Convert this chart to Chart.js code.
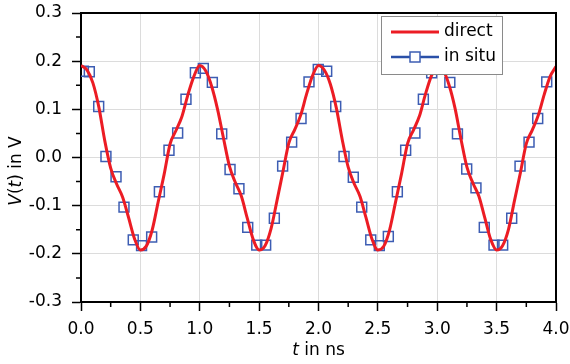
<!DOCTYPE html>
<html>
<head>
<meta charset="utf-8">
<title>V(t) direct vs in situ</title>
<script src="https://cdn.jsdelivr.net/npm/chart.js@4.4.1/dist/chart.umd.min.js"></script>
<style>
    body { margin: 0; background: #fff; }
    canvas { display: block; }
</style>
</head>
<body>
<canvas id="chart" width="570" height="364"></canvas>
<script>
// red curve, sampled every 0.05 ns
const directTimes = [
    0.00, 0.05, 0.10, 0.15, 0.20, 0.25, 0.30, 0.35, 0.40, 0.45, 0.50, 0.55, 0.60, 0.65, 0.70, 0.75, 0.80, 0.85, 0.90, 0.95,
    1.00, 1.05, 1.10, 1.15, 1.20, 1.25, 1.30, 1.35, 1.40, 1.45, 1.50, 1.55, 1.60, 1.65, 1.70, 1.75, 1.80, 1.85, 1.90, 1.95,
    2.00, 2.05, 2.10, 2.15, 2.20, 2.25, 2.30, 2.35, 2.40, 2.45, 2.50, 2.55, 2.60, 2.65, 2.70, 2.75, 2.80, 2.85, 2.90, 2.95,
    3.00, 3.05, 3.10, 3.15, 3.20, 3.25, 3.30, 3.35, 3.40, 3.45, 3.50, 3.55, 3.60, 3.65, 3.70, 3.75, 3.80, 3.85, 3.90, 3.95,
    4.00
]
const directValues = [
    0.191, 0.182, 0.155, 0.105, 0.035, -0.022, -0.055, -0.082, -0.124, -0.168, -0.192, -0.184, -0.150, -0.092, -0.035, 0.028, 0.056, 0.085, 0.130, 0.168,
    0.191, 0.180, 0.148, 0.100, 0.040, -0.018, -0.052, -0.080, -0.126, -0.170, -0.192, -0.183, -0.148, -0.090, -0.030, 0.030, 0.058, 0.088, 0.132, 0.170,
    0.191, 0.181, 0.152, 0.103, 0.037, -0.020, -0.054, -0.081, -0.125, -0.169, -0.192, -0.184, -0.149, -0.091, -0.033, 0.029, 0.057, 0.086, 0.131, 0.169,
    0.190, 0.181, 0.150, 0.102, 0.038, -0.020, -0.053, -0.080, -0.125, -0.170, -0.192, -0.183, -0.149, -0.090, -0.032, 0.029, 0.057, 0.087, 0.130, 0.168,
    0.189
]

// blue squares
const inSituTimes = [
    0.020, 0.070, 0.149, 0.210, 0.295, 0.362, 0.440, 0.510, 0.595, 0.660, 0.741, 0.814, 0.884, 0.963,
    1.030, 1.106, 1.185, 1.255, 1.330, 1.404, 1.480, 1.555, 1.628, 1.698, 1.774, 1.853, 1.920, 1.998,
    2.069, 2.145, 2.215, 2.293, 2.364, 2.440, 2.512, 2.588, 2.664, 2.734, 2.812, 2.883, 2.953,
    3.030, 3.106, 3.170, 3.248, 3.326, 3.396, 3.478, 3.551, 3.627, 3.697, 3.773, 3.846, 3.922
]
const inSituValues = [
    0.179, 0.178, 0.106, 0.002, -0.040, -0.103, -0.171, -0.183, -0.165, -0.071, 0.015, 0.051, 0.121, 0.176,
    0.185, 0.156, 0.049, -0.025, -0.065, -0.145, -0.182, -0.182, -0.126, -0.018, 0.032, 0.081, 0.157, 0.183,
    0.179, 0.106, 0.002, -0.041, -0.103, -0.171, -0.183, -0.164, -0.071, 0.015, 0.051, 0.121, 0.176,
    0.185, 0.156, 0.049, -0.024, -0.063, -0.145, -0.182, -0.182, -0.126, -0.018, 0.032, 0.081, 0.157
]

const seriesNames = ["direct", "in situ"]
const xRange = [0, 4]
const yRange = [-0.3, 0.3]

const redColor = "#ec1c24"
const blueColor = "#3d5db3"
const fontFamily = "'DejaVu Sans', 'Liberation Sans', Arial, sans-serif"
const fontSize = 17

function toPoints(xs, ys) {
    return xs.map((x, i) => ({ x: x, y: ys[i] }))
}

function oneDecimal(value) {
    if (Math.abs(value) < 1e-9) return "0.0"
    return value.toFixed(1)
}

// draws a row of text pieces, some italic, centred on (cx, cy)
function drawMixedText(ctx, parts, cx, cy) {
    let widths = parts.map(p => {
        ctx.font = (p.italic ? "italic " : "") + fontSize + "px " + fontFamily
        return ctx.measureText(p.text).width
    })
    let total = widths.reduce((a, b) => a + b, 0)
    let x = cx - total / 2
    ctx.textBaseline = "middle"
    ctx.textAlign = "left"
    parts.forEach((p, i) => {
        ctx.font = (p.italic ? "italic " : "") + fontSize + "px " + fontFamily
        ctx.fillText(p.text, x, cy)
        x += widths[i]
    })
}

const framePlugin = {
    id: "frame",
    afterDatasetsDraw(chart) {
        const ctx = chart.ctx
        const area = chart.chartArea
        const xScale = chart.scales.x
        const yScale = chart.scales.y
        ctx.save()
        ctx.strokeStyle = "#000"
        ctx.lineWidth = 2
        ctx.beginPath()
        ctx.moveTo(area.left, area.top)
        ctx.lineTo(area.right, area.top)
        ctx.lineTo(area.right, area.bottom)
        ctx.stroke()

        // minor ticks halfway between the labelled ones
        ctx.lineWidth = 1.5
        ctx.beginPath()
        for (let i = 0; i < xScale.ticks.length - 1; i++) {
            let mid = (xScale.ticks[i].value + xScale.ticks[i + 1].value) / 2
            let px = xScale.getPixelForValue(mid)
            ctx.moveTo(px, area.bottom)
            ctx.lineTo(px, area.bottom + 5)
        }
        for (let i = 0; i < yScale.ticks.length - 1; i++) {
            let mid = (yScale.ticks[i].value + yScale.ticks[i + 1].value) / 2
            let py = yScale.getPixelForValue(mid)
            ctx.moveTo(area.left, py)
            ctx.lineTo(area.left - 5, py)
        }
        ctx.stroke()
        ctx.restore()
    },
    afterDraw(chart) {
        const ctx = chart.ctx
        const area = chart.chartArea
        ctx.save()
        ctx.fillStyle = "#000"

        // axis titles
        drawMixedText(ctx, [
            { text: "t", italic: true },
            { text: " in ns", italic: false }
        ], (area.left + area.right) / 2, 351)

        ctx.translate(17, 171)
        ctx.rotate(-Math.PI / 2)
        drawMixedText(ctx, [
            { text: "V", italic: true },
            { text: "(", italic: false },
            { text: "t", italic: true },
            { text: ") in V", italic: false }
        ], 0, 0)
        ctx.restore()

        // legend box
        ctx.save()
        let boxLeft = 381, boxTop = 16, boxW = 121, boxH = 58
        ctx.fillStyle = "#fff"
        ctx.fillRect(boxLeft, boxTop, boxW, boxH)
        ctx.strokeStyle = "#8a8a8a"
        ctx.lineWidth = 1
        ctx.strokeRect(boxLeft + 0.5, boxTop + 0.5, boxW, boxH)

        let row1 = boxTop + 16, row2 = boxTop + 41
        ctx.strokeStyle = redColor
        ctx.lineWidth = 3
        ctx.beginPath()
        ctx.moveTo(boxLeft + 10, row1)
        ctx.lineTo(boxLeft + 58, row1)
        ctx.stroke()

        ctx.strokeStyle = "#2a50a8"
        ctx.lineWidth = 2.5
        ctx.beginPath()
        ctx.moveTo(boxLeft + 10, row2)
        ctx.lineTo(boxLeft + 58, row2)
        ctx.stroke()
        ctx.fillStyle = "#fff"
        ctx.fillRect(boxLeft + 29, row2 - 5, 10, 10)
        ctx.strokeStyle = blueColor
        ctx.lineWidth = 1.5
        ctx.strokeRect(boxLeft + 29, row2 - 5, 10, 10)

        ctx.fillStyle = "#000"
        ctx.font = fontSize + "px " + fontFamily
        ctx.textAlign = "left"
        ctx.textBaseline = "middle"
        ctx.fillText(chart.data.datasets[0].label, boxLeft + 63, row1)
        ctx.fillText(chart.data.datasets[1].label, boxLeft + 63, row2)
        ctx.restore()
    }
}

new Chart(document.getElementById("chart"), {
    type: "scatter",
    data: {
        datasets: [{
            label: seriesNames[0],
            data: toPoints(directTimes, directValues),
            showLine: true,
            borderColor: redColor,
            borderWidth: 3,
            pointRadius: 0,
            cubicInterpolationMode: "monotone",
            fill: false
        }, {
            label: seriesNames[1],
            data: toPoints(inSituTimes, inSituValues),
            showLine: false,
            pointStyle: "rect",
            pointRadius: 7,
            pointBorderWidth: 1.5,
            pointBorderColor: blueColor,
            pointBackgroundColor: "rgba(0,0,0,0)"
        }]
    },
    options: {
        responsive: false,
        animation: false,
        events: [],
        layout: {
            padding: { top: 13, right: 14, left: 0, bottom: 0 }
        },
        plugins: {
            legend: { display: false },
            tooltip: { enabled: false }
        },
        scales: {
            x: {
                type: "linear",
                min: xRange[0],
                max: xRange[1],
                afterFit: scale => {
                    scale.height = 62
                    scale.paddingLeft = 0
                    scale.paddingRight = 0
                },
                ticks: {
                    stepSize: 0.5,
                    autoSkip: false,
                    maxRotation: 0,
                    padding: 8,
                    color: "#000",
                    font: { family: fontFamily, size: fontSize },
                    callback: value => oneDecimal(value)
                },
                grid: {
                    color: "#dcdcdc",
                    lineWidth: 1,
                    tickColor: "#000",
                    tickLength: 9,
                    tickWidth: 1.5
                },
                border: { color: "#000", width: 2 }
            },
            y: {
                type: "linear",
                min: yRange[0],
                max: yRange[1],
                afterFit: scale => {
                    scale.width = 81
                    scale.paddingTop = 0
                    scale.paddingBottom = 0
                },
                ticks: {
                    stepSize: 0.1,
                    padding: 10,
                    color: "#000",
                    font: { family: fontFamily, size: fontSize },
                    callback: value => oneDecimal(value)
                },
                grid: {
                    color: "#dcdcdc",
                    lineWidth: 1,
                    tickColor: "#000",
                    tickLength: 9,
                    tickWidth: 1.5
                },
                border: { color: "#000", width: 2 }
            }
        }
    },
    plugins: [framePlugin]
})
</script>
</body>
</html>
